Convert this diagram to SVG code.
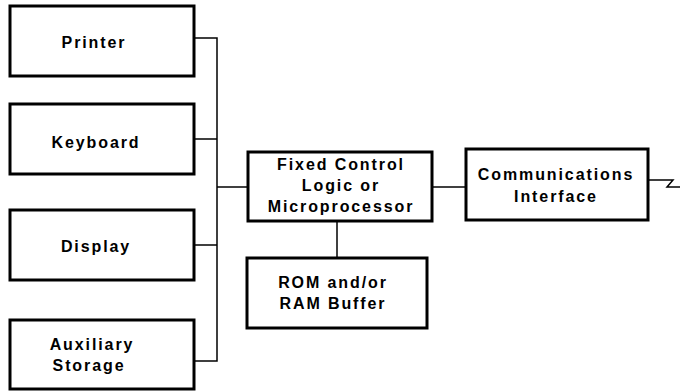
<svg xmlns="http://www.w3.org/2000/svg" width="681" height="391" viewBox="0 0 681 391">
<style>
.box{fill:#fff;stroke:#000;stroke-width:3}
.t{font-family:"Liberation Sans",Arial,sans-serif;font-weight:bold;font-size:16px;letter-spacing:1.9px;text-anchor:middle;fill:#000}
.c{fill:none;stroke:#000;stroke-width:1.5}
</style>
<rect width="681" height="391" fill="#fff"/>
<g id="connectors">
<polyline class="c" points="194,38 217,38 217,361 194,361"/>
<line class="c" x1="194" y1="139" x2="217" y2="139"/>
<line class="c" x1="194" y1="245" x2="217" y2="245"/>
<line class="c" x1="217" y1="187" x2="248" y2="187"/>
<line class="c" x1="432" y1="187" x2="466" y2="187"/>
<line class="c" x1="337" y1="221" x2="337" y2="258"/>
<polyline class="c" points="648,180 673,180 667,187 680,187"/>
</g>
<g id="printer"><rect class="box" x="10" y="6" width="184" height="70"/><text class="t" x="94" y="48">Printer</text></g>
<g id="keyboard"><rect class="box" x="10" y="104" width="184" height="70"/><text class="t" x="96" y="148">Keyboard</text></g>
<g id="display"><rect class="box" x="10" y="210" width="184" height="70"/><text class="t" x="96" y="252">Display</text></g>
<g id="auxiliary"><rect class="box" x="10" y="320" width="184" height="69"/><text class="t" x="92" y="350">Auxiliary</text><text class="t" x="89" y="371">Storage</text></g>
<g id="control"><rect class="box" x="248" y="152" width="184" height="69"/><text class="t" x="341" y="170">Fixed Control</text><text class="t" x="341" y="191">Logic or</text><text class="t" x="341" y="212">Microprocessor</text></g>
<g id="rom"><rect class="box" x="247" y="258" width="180" height="70"/><text class="t" x="333" y="288">ROM and/or</text><text class="t" x="333" y="309">RAM Buffer</text></g>
<g id="comm"><rect class="box" x="466" y="149" width="182" height="71"/><text class="t" x="556" y="180">Communications</text><text class="t" x="556" y="202">Interface</text></g>
</svg>
